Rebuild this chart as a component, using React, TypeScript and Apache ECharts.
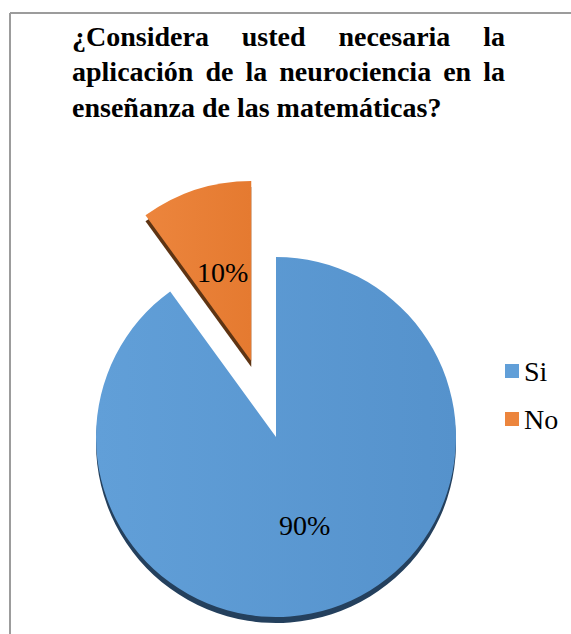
import React, { useEffect, useRef } from "react";
import * as echarts from "echarts";

const categories = ["Si", "No"];
const values = [90, 10];
const explodedCategory = "No";
const titleLines = [
  "¿Considera usted necesaria la",
  "aplicación de la neurociencia en la",
  "enseñanza de las matemáticas?",
];
const faceColors = [
  ["#619fd8", "#5592cc"],
  ["#ec853d", "#e57a30"],
];
const edgeColors = ["#24405d", "#5e3413"];

export default function App() {
  const ref = useRef<HTMLDivElement>(null);

  useEffect(() => {
    const chart = echarts.init(ref.current!, null, { renderer: "svg" });
    const serif = "Liberation Serif";
    const titleFont = 28;

    const ctx = document.createElement("canvas").getContext("2d")!;
    ctx.font = `bold ${titleFont}px "Liberation Serif"`;
    const x0 = 72;
    const x1 = 505;
    const baselines = [46, 81, 117];
    const titles: any[] = [];

    const addTitle = (text: string, x: number, baseline: number) => {
      const mid = baseline - 0.3375 * titleFont;
      titles.push({
        text,
        left: x,
        top: mid - titleFont / 2,
        padding: 0,
        itemGap: 0,
        textStyle: {
          fontFamily: serif,
          fontSize: titleFont,
          fontWeight: "bold",
          lineHeight: titleFont,
          color: "#000",
        },
      });
    };

    titleLines.forEach((line, i) => {
      const justify = i < titleLines.length - 1;
      if (!justify) {
        addTitle(line, x0, baselines[i]);
        return;
      }
      const words = line.split(" ");
      const widths = words.map((w) => ctx.measureText(w).width);
      const total = widths.reduce((a, b) => a + b, 0);
      const gap = (x1 - x0 - total) / (words.length - 1);
      let x = x0;
      words.forEach((w, j) => {
        addTitle(w, x, baselines[i]);
        x += widths[j] + gap;
      });
    });

    const graphics: any[] = [
      {
        type: "line",
        shape: { x1: 10, y1: 13, x2: 571, y2: 13 },
        style: { stroke: "#9c9c9c", lineWidth: 2 },
      },
      {
        type: "line",
        shape: { x1: 10, y1: 13, x2: 10, y2: 634 },
        style: { stroke: "#9c9c9c", lineWidth: 2 },
      },
    ];

    const grad = (c: string[]) => ({
      type: "linear",
      x: 0,
      y: 0,
      x2: 1,
      y2: 0,
      colorStops: [
        { offset: 0, color: c[0] },
        { offset: 1, color: c[1] },
      ],
    });

    const frontData = categories.map((name, i) => ({
      name,
      value: values[i],
      selected: name === explodedCategory,
      itemStyle: { color: grad(faceColors[i]) },
    }));
    const backData = categories.map((name, i) => ({
      name,
      value: values[i],
      selected: name === explodedCategory,
      itemStyle: { color: edgeColors[i] },
    }));

    const common = {
      type: "pie",
      radius: 180,
      startAngle: 90,
      clockwise: true,
      selectedMode: "single",
      selectedOffset: 80,
      avoidLabelOverlap: false,
      silent: true,
      emphasis: { disabled: true },
      labelLine: { show: false },
    };

    chart.setOption({
      animation: false,
      title: titles,
      graphic: graphics,
      legend: {
        orient: "vertical",
        left: 500,
        top: 352,
        itemWidth: 14,
        itemHeight: 14,
        itemGap: 20,
        icon: "rect",
        selectedMode: false,
        data: categories.map((name, i) => ({
          name,
          itemStyle: { color: faceColors[i][0] },
        })),
        textStyle: {
          fontFamily: serif,
          fontSize: 28,
          lineHeight: 28,
          color: "#000",
        },
      },
      series: [
        {
          ...common,
          name: "front",
          z: 3,
          center: [276, 437],
          data: frontData,
          label: {
            show: true,
            position: "inside",
            formatter: "{d}%",
            fontFamily: serif,
            fontSize: 28,
            color: "#000",
          },
        },
        {
          ...common,
          name: "edge",
          z: 2,
          center: [276, 443],
          data: backData,
          label: { show: false },
        },
      ],
    });

    return () => chart.dispose();
  }, []);

  return (
    <div
      ref={ref}
      style={{ position: "absolute", left: 0, top: 0, width: 571, height: 634 }}
    />
  );
}
